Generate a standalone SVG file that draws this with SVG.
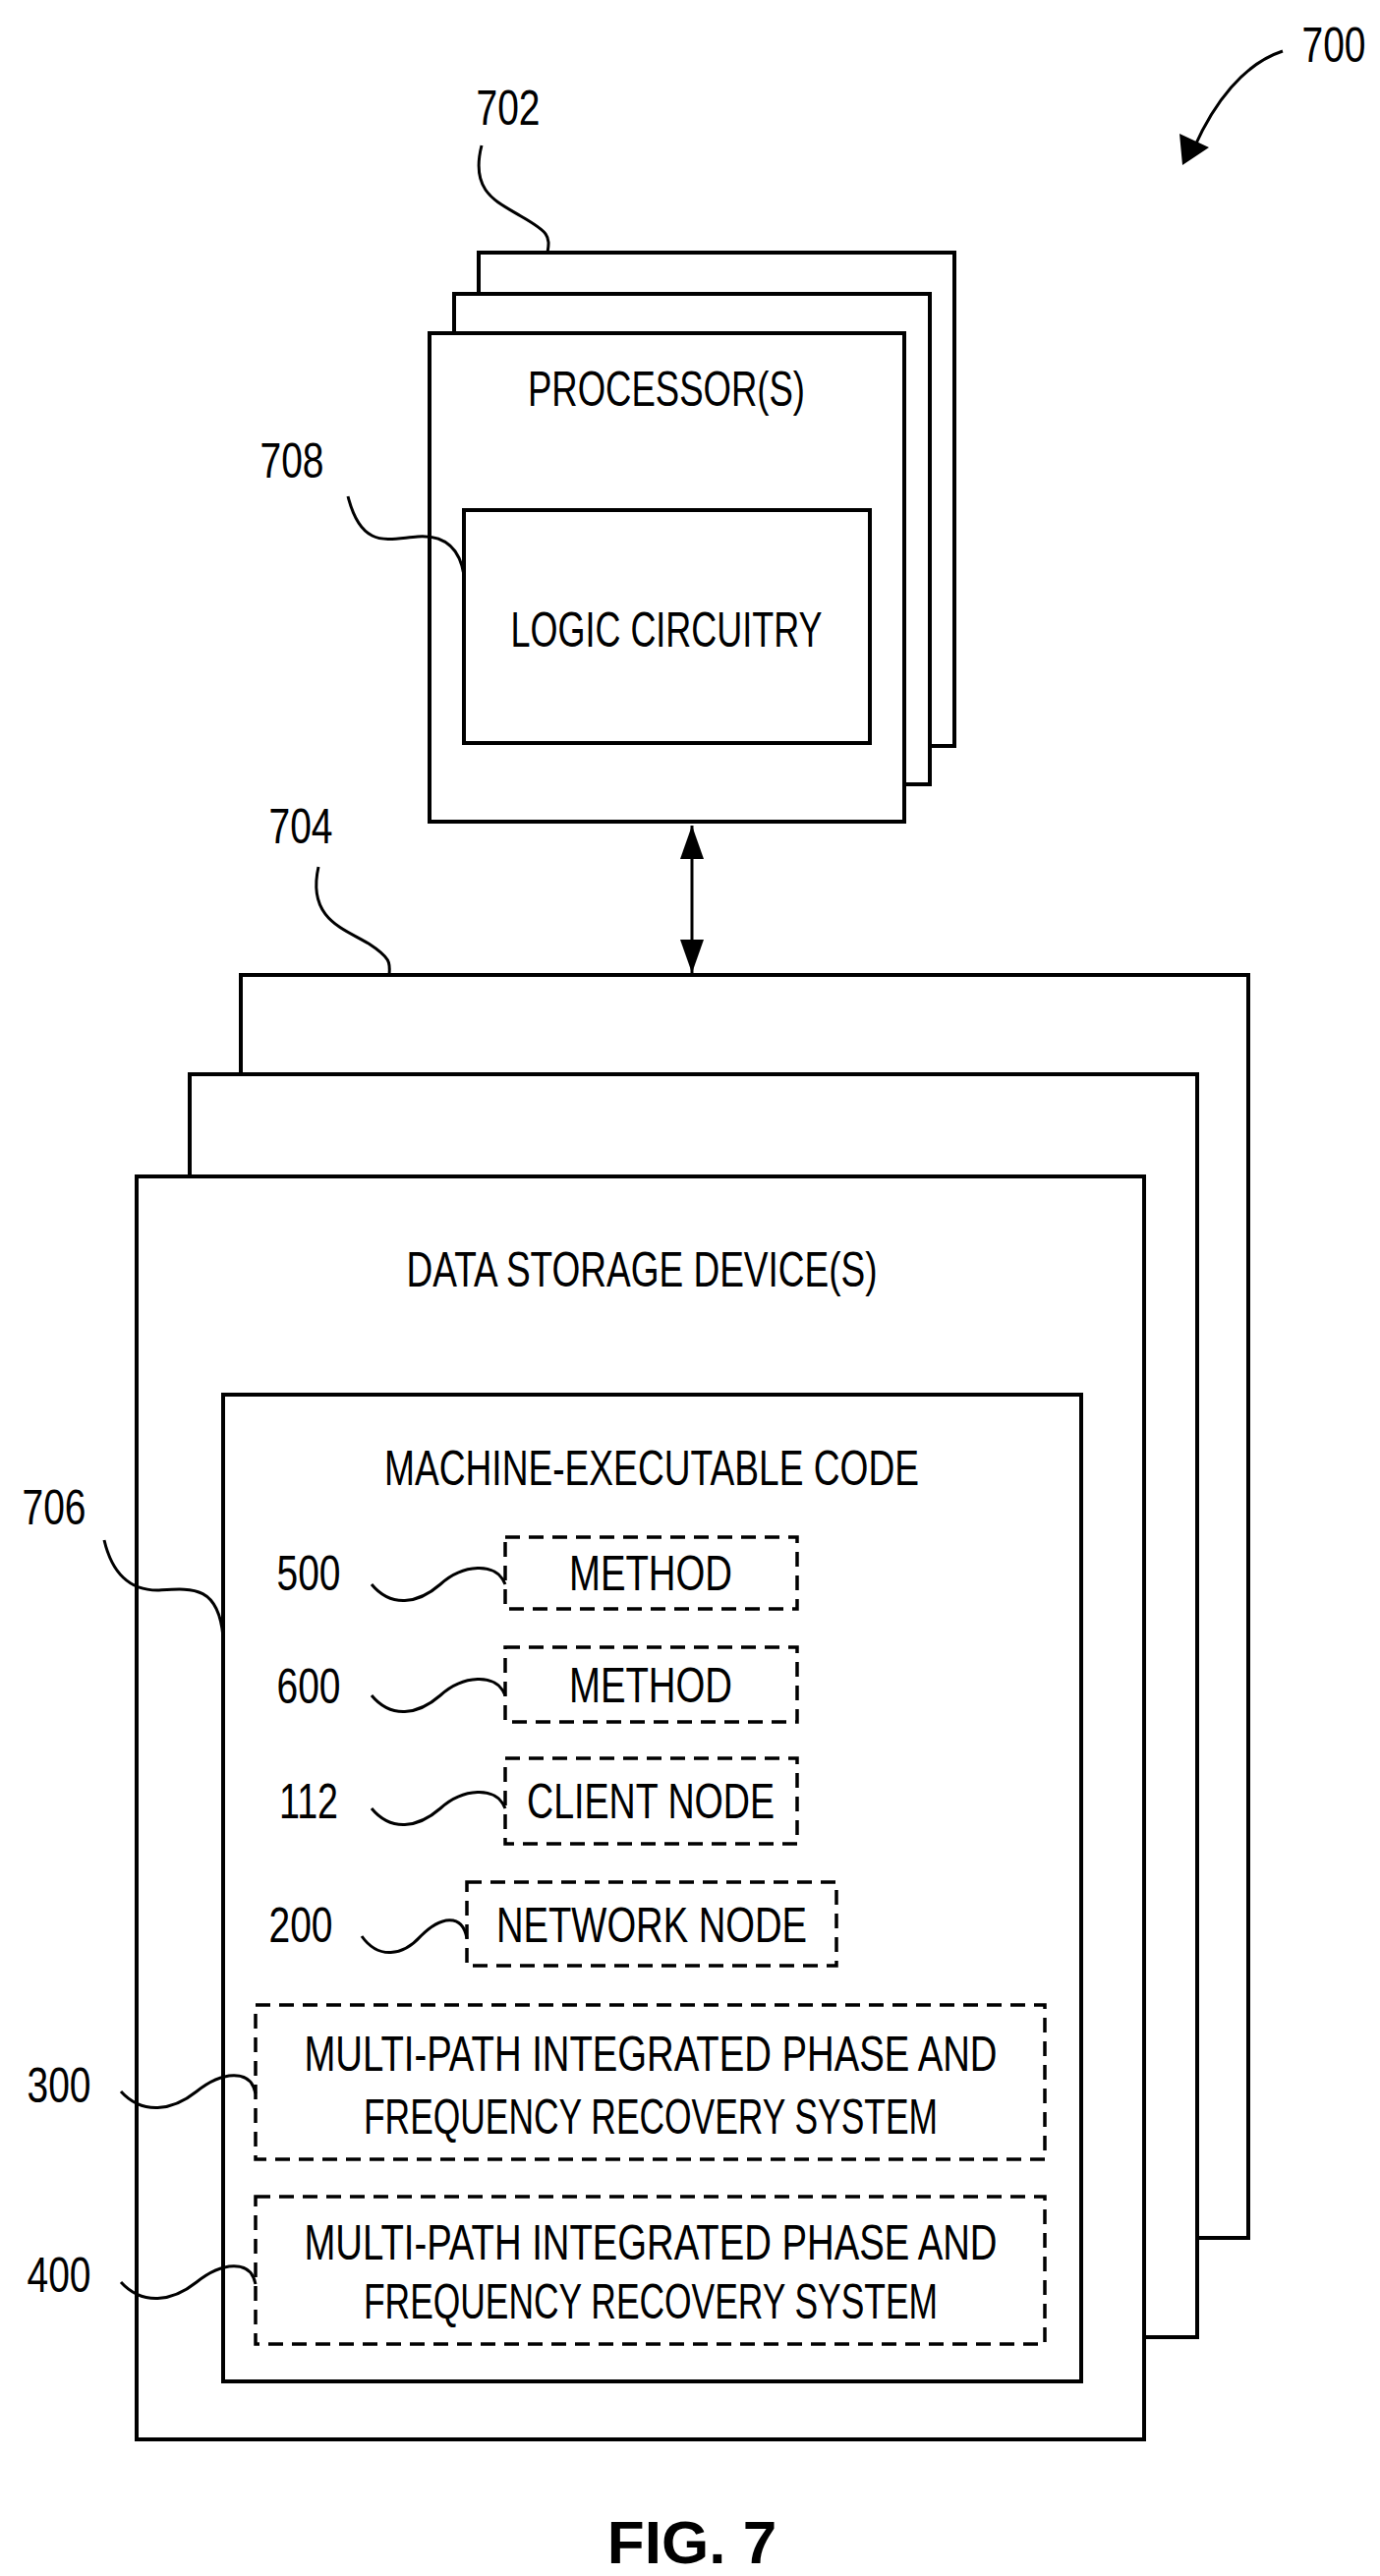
<svg xmlns="http://www.w3.org/2000/svg" width="1404" height="2621" viewBox="0 0 1404 2621">
<style>
.b{fill:#fff;stroke:#000;stroke-width:4}
.d{fill:#fff;stroke:#000;stroke-width:3.5;stroke-dasharray:15 9}
.l{fill:none;stroke:#000;stroke-width:3}
text{font-family:"Liberation Sans",Arial,sans-serif;font-size:50px;fill:#000;text-anchor:middle}
.f{font-weight:bold;font-size:62px}
</style>
<defs>
<marker id="ah" markerWidth="34" markerHeight="24" refX="10" refY="5" orient="auto-start-reverse" markerUnits="userSpaceOnUse" viewBox="0 0 10 10" preserveAspectRatio="none"><path d="M0,0 L10,5 L0,10 z"/></marker>
</defs>
<g id="ref700"><text x="1357" y="63" textLength="65" lengthAdjust="spacingAndGlyphs">700</text>
<path class="l" d="M1305,52 C1265,65 1235,105 1215,150"/><path d="M1203,168 L1200,136 L1230,150 z"/></g>
<g id="processors">
<rect class="b" x="487" y="257" width="484" height="502"/>
<rect class="b" x="462" y="299" width="484" height="499"/>
<rect class="b" x="437" y="339" width="483" height="497"/>
<text x="678" y="413" textLength="282" lengthAdjust="spacingAndGlyphs">PROCESSOR(S)</text>
</g>
<g id="logic"><rect class="b" x="472" y="519" width="413" height="237"/>
<text x="678" y="658" textLength="317" lengthAdjust="spacingAndGlyphs">LOGIC CIRCUITRY</text></g>
<g id="storage">
<rect class="b" x="245" y="992" width="1025" height="1285"/>
<rect class="b" x="193" y="1093" width="1025" height="1285"/>
<rect class="b" x="139" y="1197" width="1025" height="1285"/>
<text x="653" y="1309" textLength="479" lengthAdjust="spacingAndGlyphs">DATA STORAGE DEVICE(S)</text>
</g>
<g id="code"><rect class="b" x="227" y="1419" width="873" height="1004"/>
<text x="663" y="1511" textLength="544" lengthAdjust="spacingAndGlyphs">MACHINE-EXECUTABLE CODE</text></g>
<g id="m500"><rect class="d" x="514" y="1564" width="297" height="73"/><text x="662" y="1618" textLength="166" lengthAdjust="spacingAndGlyphs">METHOD</text></g>
<g id="m600"><rect class="d" x="514" y="1676" width="297" height="76"/><text x="662" y="1732" textLength="166" lengthAdjust="spacingAndGlyphs">METHOD</text></g>
<g id="n112"><rect class="d" x="514" y="1789" width="297" height="87"/><text x="662" y="1850" textLength="252" lengthAdjust="spacingAndGlyphs">CLIENT NODE</text></g>
<g id="n200"><rect class="d" x="475" y="1915" width="376" height="85"/><text x="663" y="1976" textLength="316" lengthAdjust="spacingAndGlyphs">NETWORK NODE</text></g>
<g id="s300"><rect class="d" x="260" y="2040" width="803" height="157"/>
<text x="662" y="2107" textLength="705" lengthAdjust="spacingAndGlyphs">MULTI-PATH INTEGRATED PHASE AND</text>
<text x="662" y="2171" textLength="584" lengthAdjust="spacingAndGlyphs">FREQUENCY RECOVERY SYSTEM</text></g>
<g id="s400"><rect class="d" x="260" y="2235" width="803" height="150"/>
<text x="662" y="2299" textLength="705" lengthAdjust="spacingAndGlyphs">MULTI-PATH INTEGRATED PHASE AND</text>
<text x="662" y="2359" textLength="584" lengthAdjust="spacingAndGlyphs">FREQUENCY RECOVERY SYSTEM</text></g>
<g id="labels">
<text x="517" y="127" textLength="65" lengthAdjust="spacingAndGlyphs">702</text>
<text x="297" y="486" textLength="65" lengthAdjust="spacingAndGlyphs">708</text>
<text x="306" y="858" textLength="65" lengthAdjust="spacingAndGlyphs">704</text>
<text x="55" y="1551" textLength="65" lengthAdjust="spacingAndGlyphs">706</text>
<text x="314" y="1618" textLength="65" lengthAdjust="spacingAndGlyphs">500</text>
<text x="314" y="1733" textLength="65" lengthAdjust="spacingAndGlyphs">600</text>
<text x="314" y="1850" textLength="60" lengthAdjust="spacingAndGlyphs">112</text>
<text x="306" y="1976" textLength="65" lengthAdjust="spacingAndGlyphs">200</text>
<text x="60" y="2139" textLength="65" lengthAdjust="spacingAndGlyphs">300</text>
<text x="60" y="2332" textLength="65" lengthAdjust="spacingAndGlyphs">400</text>
<text class="f" x="704" y="2608">FIG. 7</text>
</g>
<g id="connectors">
<path class="l" d="M490,148 C478,195 505,205 530,220 C558,236 560,240 557,257"/>
<path class="l" d="M354,505 C368,560 395,548 425,546 C455,544 468,560 472,585"/>
<path class="l" d="M324,882 C312,935 350,945 375,960 C398,975 397,980 396,992"/>
<path class="l" d="M106,1567 C115,1605 135,1618 160,1618 C195,1616 222,1612 227,1665"/>
<path class="l" d="M378,1612 C398,1636 425,1632 448,1612 C470,1592 505,1588 514,1612"/>
<path class="l" d="M378,1725 C398,1749 425,1745 448,1725 C470,1705 505,1701 514,1725"/>
<path class="l" d="M378,1840 C398,1864 425,1860 448,1840 C470,1820 505,1816 514,1840"/>
<path class="l" d="M368,1970 C385,1994 410,1990 428,1970 C448,1950 470,1946 475,1972"/>
<path class="l" d="M123,2128 C145,2152 175,2148 200,2128 C225,2108 255,2104 260,2130"/>
<path class="l" d="M123,2322 C145,2346 175,2342 200,2322 C225,2302 255,2298 260,2324"/>
<path class="l" d="M704,840 L704,990" marker-start="url(#ah)" marker-end="url(#ah)"/>
</g>
</svg>
